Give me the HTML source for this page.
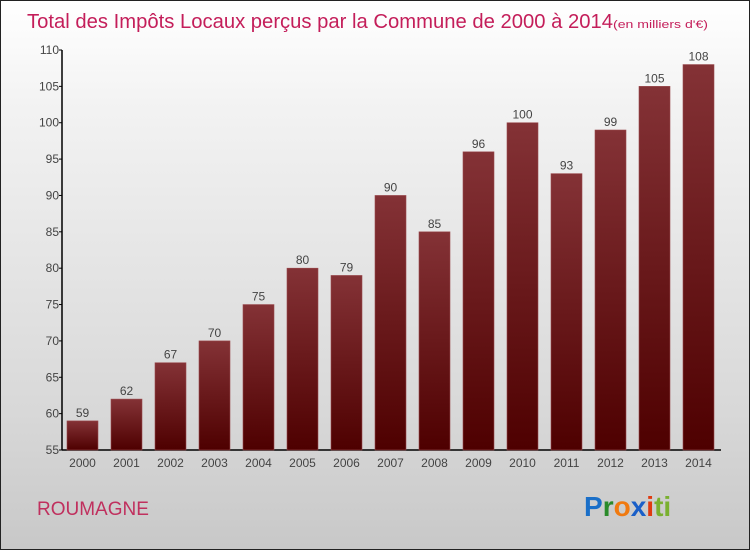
<!DOCTYPE html>
<html><head><meta charset="utf-8"><style>
body{margin:0}
#wrap{position:relative;width:748px;height:548px;border:1px solid #222;background:linear-gradient(#ffffff,#f2f2f2 20%,#d8d8d8 75%,#c8c8c8);font-family:"Liberation Sans",sans-serif;overflow:hidden}
</style></head><body>
<div id="wrap">
<svg id="chart" width="748" height="548">
<defs><linearGradient id="bg" x1="0" y1="0" x2="0" y2="1"><stop offset="0" stop-color="#843236"/><stop offset="1" stop-color="#4e0000"/></linearGradient></defs>
<text x="26" y="27" font-size="20" fill="#c41e5a" textLength="586" lengthAdjust="spacingAndGlyphs">Total des Impôts Locaux perçus par la Commune de 2000 à 2014</text>
<text x="612" y="27" font-size="11" fill="#c41e5a" textLength="95" lengthAdjust="spacingAndGlyphs">(en milliers d'€)</text>
<text x="36" y="514" font-size="19" fill="#c0305e">ROUMAGNE</text>
<g font-size="28" font-weight="bold" font-family="'Liberation Sans',sans-serif">
<text x="583" y="515"><tspan fill="#1a6fc8">P</tspan><tspan fill="#2a8a2a">r</tspan><tspan fill="#f07a10">o</tspan><tspan fill="#1a5fc8">x</tspan><tspan fill="#e03a10">i</tspan><tspan fill="#7ab030">ti</tspan></text></g>
<g id="axes"></g><g id="bars"></g>
</svg>
</div>
<script>
const years=["2000","2001","2002","2003","2004","2005","2006","2007","2008","2009","2010","2011","2012","2013","2014"];
const values=[59,62,67,70,75,80,79,90,85,96,100,93,99,105,108];
const ticks=[55,60,65,70,75,80,85,90,95,100,105,110];
const NS="http://www.w3.org/2000/svg";
const y0=449,y1=49,vmin=55,vmax=110,axX=61;
function yS(v){return y0-(v-vmin)/(vmax-vmin)*(y0-y1);}
function xS(i){return 66+i*44;}
function mk(t,a,p){const e=document.createElementNS(NS,t);for(const k in a)e.setAttribute(k,a[k]);p.appendChild(e);return e;}
const ax=document.getElementById('axes'),bg=document.getElementById('bars');
let l=mk('line',{x1:axX,y1:y1,x2:axX,y2:y0,stroke:'#000','stroke-width':1.5},ax);


l=mk('line',{x1:axX,y1:y0,x2:720,y2:y0,stroke:'#000','stroke-width':1.5},ax);


ticks.forEach(t=>{
 mk('line',{x1:axX-3,y1:yS(t),x2:axX,y2:yS(t),stroke:'#000'},ax);
 const tx=mk('text',{x:axX-3,y:yS(t)+4,'font-size':12,fill:'#444','text-anchor':'end'},ax);
 tx.textContent=t;
 
 
});
values.forEach((v,i)=>{
 const r=mk('rect',{x:xS(i),y:yS(v),width:31,height:y0-yS(v),fill:'url(#bg)',stroke:'#9a4a4e','stroke-width':0.6},bg);
 
 
 const vt=mk('text',{x:xS(i)+15.5,y:yS(v)-4,'font-size':12,fill:'#444','text-anchor':'middle'},bg);
 vt.textContent=v;
 
 
 const yt=mk('text',{x:xS(i)+15.5,y:466,'font-size':12,fill:'#444','text-anchor':'middle'},bg);
 yt.textContent=years[i];
 
 
});
</script>
</body></html>
